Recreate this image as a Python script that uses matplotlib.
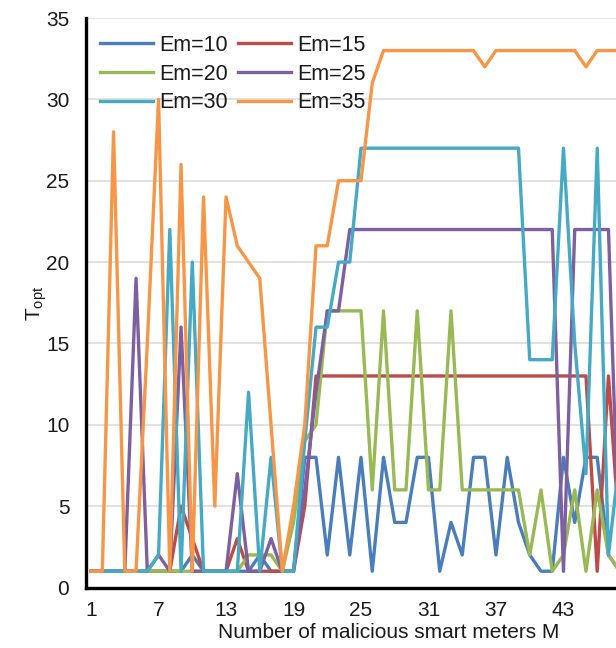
import matplotlib
matplotlib.use("Agg")
import matplotlib.pyplot as plt

plt.rcParams['font.family'] = ['Liberation Sans', 'DejaVu Sans']
plt.rcParams['mathtext.fontset'] = 'custom'
plt.rcParams['mathtext.rm'] = 'Liberation Sans'
plt.rcParams['mathtext.it'] = 'Liberation Sans'

M = list(range(1, 49))
em10 = [1, 1, 1, 1, 1, 1, 1, 1, 1, 2,
        1, 1, 1, 1, 1, 2, 1, 1, 1, 8,
        8, 2, 8, 2, 8, 1, 8, 4, 4, 8,
        8, 1, 4, 2, 8, 8, 2, 8, 4, 2,
        1, 1, 8, 4, 8, 8, 2, 1]
em15 = [1, 1, 1, 1, 1, 1, 1, 1, 5, 3,
        1, 1, 1, 3, 1, 1, 1, 1, 1, 5,
        13, 13, 13, 13, 13, 13, 13, 13, 13, 13,
        13, 13, 13, 13, 13, 13, 13, 13, 13, 13,
        13, 13, 13, 13, 13, 1, 13, 3]
em20 = [1, 1, 1, 1, 1, 1, 1, 1, 1, 1,
        1, 1, 1, 1, 2, 2, 2, 1, 4, 9,
        10, 17, 17, 17, 17, 6, 17, 6, 6, 17,
        6, 6, 17, 6, 6, 6, 6, 6, 6, 2,
        6, 1, 2, 6, 1, 6, 2, 1]
em25 = [1, 1, 1, 1, 19, 1, 2, 1, 16, 1,
        1, 1, 1, 7, 1, 1, 3, 1, 1, 6,
        12, 17, 17, 22, 22, 22, 22, 22, 22, 22,
        22, 22, 22, 22, 22, 22, 22, 22, 22, 22,
        22, 22, 1, 22, 22, 22, 22, 1]
em30 = [1, 1, 1, 1, 1, 1, 2, 22, 1, 20,
        1, 1, 1, 1, 12, 1, 8, 1, 1, 9,
        16, 16, 20, 20, 27, 27, 27, 27, 27, 27,
        27, 27, 27, 27, 27, 27, 27, 27, 27, 14,
        14, 14, 27, 15, 7, 27, 2, 8]
em35 = [1, 1, 28, 1, 1, 15, 30, 1, 26, 1,
        24, 5, 24, 21, 20, 19, 10, 1, 5, 10,
        21, 21, 25, 25, 25, 31, 33, 33, 33, 33,
        33, 33, 33, 33, 33, 32, 33, 33, 33, 33,
        33, 33, 33, 33, 32, 33, 33, 33]

labels = ['Em=10', 'Em=15', 'Em=20', 'Em=25', 'Em=30', 'Em=35']
colors = ['#4A7EBB', '#BE4B48', '#98B954', '#7D60A0', '#46AAC5', '#F79646']
series = [em10, em15, em20, em25, em30, em35]
xticks = [1, 7, 13, 19, 25, 31, 37, 43]

W, H = 616, 648
fig = plt.figure(figsize=(W / 100, H / 100), dpi=100)
left, right = 86, 616
top, bottom = 18, 587.5
ax = fig.add_axes([left / W, 1 - bottom / H, (right - left) / W, (bottom - top) / H])

lines = {}
for lab, col, s in zip(labels, colors, series):
    ln, = ax.plot(M, s, color=col, lw=2.4, label=lab, solid_joinstyle='round')
    lines[lab] = ln

ax.set_xlim(0.55, 1 + (616 - 90.5) / 11.26)
ax.set_ylim(0, 35)
ax.set_yticks(range(0, 36, 5))
ax.set_xticks(xticks)
ax.grid(axis='y', color='#D9D9D9', lw=1.1)
ax.set_axisbelow(True)
for sp in ['top', 'right']:
    ax.spines[sp].set_visible(False)
for sp in ['left', 'bottom']:
    ax.spines[sp].set_linewidth(2.4)
    ax.spines[sp].set_color('black')
ax.tick_params(axis='both', length=0, labelsize=15, colors='#1a1a1a')
ax.tick_params(axis='x', pad=10)
ax.tick_params(axis='y', pad=12)

fig.text(388.6 / W, 1 - 633 / H, 'Number of malicious smart meters M',
         ha='center', va='center', fontsize=15, color='#1a1a1a')
fig.text(37 / W, 1 - 303 / H, r'T$_{\mathrm{opt}}$', rotation=90,
         ha='center', va='center', fontsize=15, color='#1a1a1a')

order = ['Em=10', 'Em=20', 'Em=30', 'Em=15', 'Em=25', 'Em=35']
leg = ax.legend([lines[o] for o in order], order, ncol=2, frameon=False,
                loc='upper left', bbox_to_anchor=(100 / W, 1 - 35 / H),
                bbox_transform=fig.transFigure, borderaxespad=0, borderpad=0,
                fontsize=15.5, handlelength=2.45, handletextpad=0.28,
                columnspacing=0.5, labelspacing=0.36)
for t in leg.get_texts():
    t.set_color('#1a1a1a')

fig.savefig('out.png', dpi=100)
